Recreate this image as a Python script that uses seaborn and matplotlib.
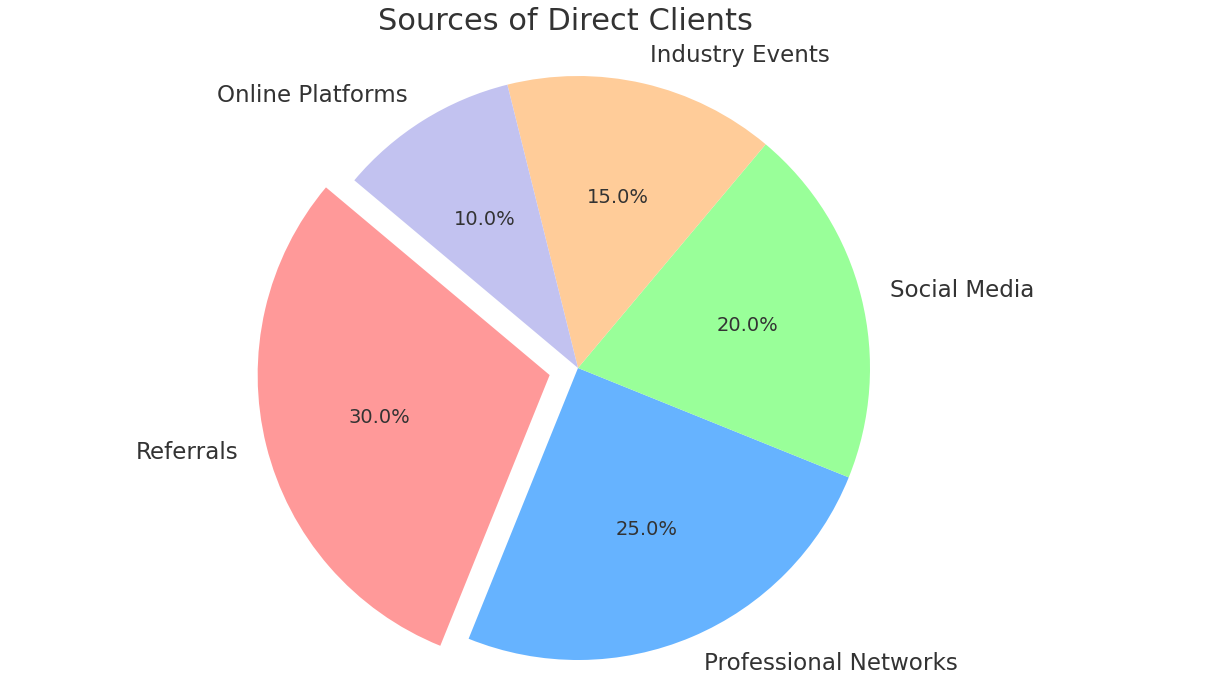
import matplotlib
matplotlib.use("Agg")
import matplotlib.pyplot as plt
import seaborn as sns

# data
sources = ["Referrals", "Professional Networks", "Social Media", "Industry Events", "Online Platforms"]
shares = [30, 25, 20, 15, 10]
slice_colors = ["#ff9999", "#66b3ff", "#99ff99", "#ffcc99", "#c2c2f0"]
explode = [0.1, 0, 0, 0, 0]

sns.set_theme(style="white")
plt.rcParams["font.family"] = ["DejaVu Sans"]
plt.rcParams["text.color"] = "#333333"

palette = sns.color_palette(slice_colors)

W, H = 1217, 692
fig = plt.figure(figsize=(W / 100, H / 100), dpi=100)

# pie centre ~ (578, 368) px, radius ~292 px
r_px = 292
lim = 1.25
side = 2 * lim * r_px
cx, cy = 578, H - 368
ax = fig.add_axes([(cx - side / 2) / W, (cy - side / 2) / H, side / W, side / H])

wedges, texts, autotexts = ax.pie(
    shares,
    labels=sources,
    colors=palette,
    explode=explode,
    autopct="%1.1f%%",
    startangle=140,
    wedgeprops={"linewidth": 0, "edgecolor": "none"},
    textprops={"fontsize": 16.6, "color": "#333333"},
)
for t in autotexts:
    t.set_fontsize(14)
    t.set_color("#333333")

ax.set_xlim(-lim, lim)
ax.set_ylim(-lim, lim)
ax.set_aspect("equal")
ax.axis("off")

fig.text(565 / W, 1 - 22 / H, "Sources of Direct Clients", ha="center", va="center",
         fontsize=22, color="#333333")

fig.savefig("out.png", dpi=100)
